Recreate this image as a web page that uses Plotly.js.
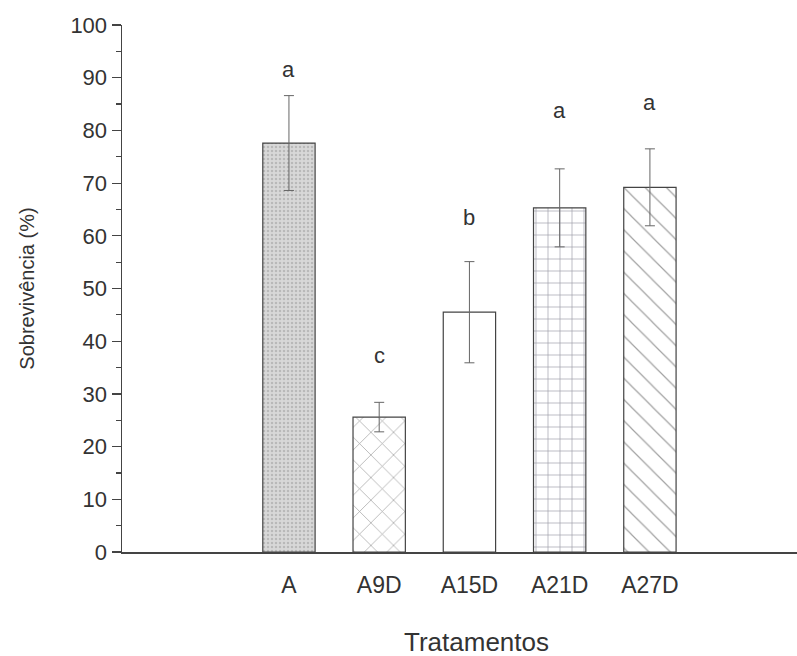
<!DOCTYPE html>
<html>
<head>
<meta charset="utf-8">
<script src="https://cdn.plot.ly/plotly-3.0.1.min.js"></script>
<style>html,body{margin:0;padding:0;background:#fff;}#chart{width:797px;height:656px;}</style>
</head>
<body>
<div id="chart"></div>
<script>
const categories = ["A", "A9D", "A15D", "A21D", "A27D"];
const survival = [77.6, 25.6, 45.5, 65.3, 69.2];
const errors = [9.0, 2.8, 9.6, 7.4, 7.3];
const letters = ["a", "c", "b", "a", "a"];
const letterY = [91.6, 37.3, 63.4, 83.8, 85.3];
const yTicks = [0, 10, 20, 30, 40, 50, 60, 70, 80, 90, 100];

const textColor = "#333333";
const fontFam = "Liberation Sans, Arial, sans-serif";

const patternShapes = [".", "x", "", "+", "\\"];
const patternFg = ["#9a9a9a", "#4a4a4a", "#555555", "#3a3a50", "#444444"];
const patternBg = ["#d8d8d8", "#ffffff", "#ffffff", "#ffffff", "#ffffff"];
const patternSize = [4, 16, 10, 12, 15];
const patternSolid = [0.3, 0.09, 0.1, 0.11, 0.08];

const traces = categories.map((c, i) => {
  const pat = {fgcolor: patternFg[i], bgcolor: patternBg[i], size: patternSize[i], solidity: patternSolid[i], fillmode: "overlay"};
  if (patternShapes[i]) pat.shape = patternShapes[i];
  return {
    type: "bar",
    name: c,
    x: [c],
    y: [survival[i]],
    width: 0.58,
    error_y: {type: "data", array: [errors[i]], visible: true, color: "#666", thickness: 1, width: 5},
    marker: {color: patternBg[i], line: {color: "#444", width: 1.2}, pattern: pat}
  };
});

const L = 122, R = 0, T = 25, B = 104, W = 797, H = 656;
const pw = W - L - R, ph = H - T - B;

const annotations = categories.map((c, i) => ({
  x: c, y: letterY[i], xref: "x", yref: "y", text: letters[i], showarrow: false,
  font: {family: fontFam, size: 22, color: textColor}, yanchor: "middle"
}));
annotations.push({
  x: (476 - L) / pw, y: (H - B - 642) / ph, xref: "paper", yref: "paper",
  text: "Tratamentos", showarrow: false, yanchor: "middle",
  font: {family: fontFam, size: 26, color: textColor}
});

const layout = {
  width: W, height: H,
  margin: {l: L, r: R, t: T, b: B, pad: 0},
  paper_bgcolor: "#ffffff", plot_bgcolor: "#ffffff",
  showlegend: false,
  barmode: "overlay",
  font: {family: fontFam, color: textColor},
  xaxis: {
    type: "category",
    categoryorder: "array", categoryarray: categories,
    range: [-1.85, 5.63],
    showline: true, linecolor: "#444", linewidth: 1.5,
    ticks: "", showgrid: false, zeroline: false,
    tickfont: {family: fontFam, size: 23, color: textColor},
    ticklabelstandoff: 12
  },
  yaxis: {
    range: [0, 100],
    tickvals: yTicks,
    ticktext: yTicks.map(String),
    showline: true, linecolor: "#444", linewidth: 1.5,
    ticks: "outside", ticklen: 9, tickwidth: 1.2, tickcolor: "#444",
    minor: {dtick: 5, ticks: "outside", ticklen: 5, tickwidth: 1.2, tickcolor: "#444"},
    showgrid: false, zeroline: false,
    tickfont: {family: fontFam, size: 22, color: textColor},
    title: {text: "Sobrevivência (%)", font: {family: fontFam, size: 20, color: textColor}, standoff: 30}
  },
  annotations: annotations
};

Plotly.newPlot("chart", traces, layout, {displayModeBar: false, staticPlot: true});
</script>
</body>
</html>
